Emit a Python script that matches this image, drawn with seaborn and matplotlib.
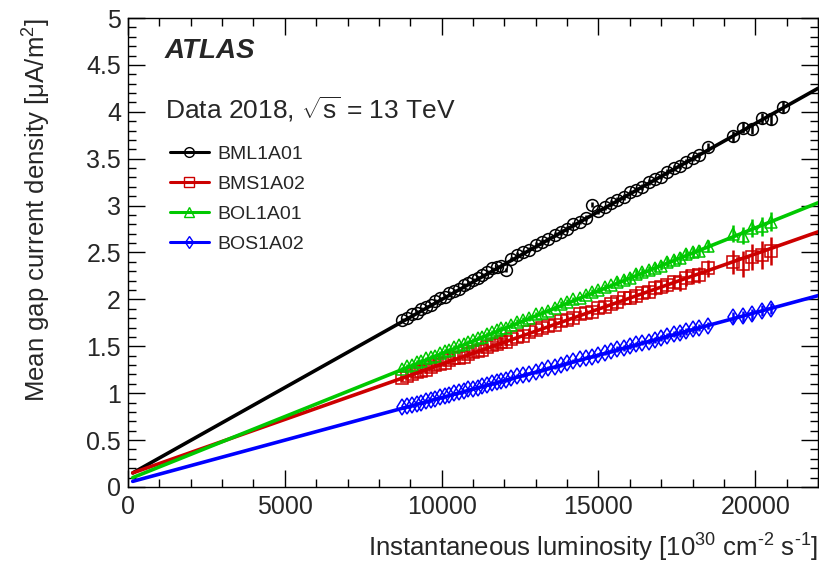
import matplotlib
matplotlib.use("Agg")
import matplotlib.pyplot as plt
import seaborn as sns
from matplotlib.lines import Line2D
from matplotlib.ticker import MultipleLocator

# ---------------- data ----------------
lumi = [8750, 8900, 9050, 9200, 9350, 9500, 9650, 9800, 9950, 10100,
        10250, 10400, 10550, 10700, 10850, 11000, 11150, 11300, 11450, 11600,
        11750, 11900, 12050, 12200, 12400, 12600, 12800, 13000, 13200, 13400,
        13600, 13800, 14000, 14200, 14400, 14600, 14800, 15000, 15200, 15400,
        15600, 15800, 16000, 16200, 16400, 16600, 16800, 17000, 17200, 17400,
        17600, 17800, 18000, 18200, 18500, 19300, 19600, 19900, 20200, 20500]
lumi_bml = lumi + [20900]

bml1a01 = [1.78, 1.80, 1.84, 1.86, 1.90, 1.92, 1.94, 1.98, 2.01, 2.03,
           2.07, 2.09, 2.11, 2.15, 2.17, 2.21, 2.23, 2.26, 2.29, 2.33,
           2.35, 2.36, 2.31, 2.43, 2.47, 2.50, 2.53, 2.58, 2.61, 2.64,
           2.69, 2.72, 2.75, 2.80, 2.83, 2.87, 3.01, 2.94, 2.98, 3.03,
           3.06, 3.09, 3.14, 3.17, 3.20, 3.25, 3.28, 3.31, 3.36, 3.40,
           3.42, 3.47, 3.51, 3.54, 3.62, 3.74, 3.83, 3.82, 3.93, 3.92, 4.05]
bml1a01_err = [0.02] * 24 + [0.03] * 30 + [0.05, 0.06, 0.06, 0.06, 0.06, 0.06, 0.06]

bms1a02 = [1.16, 1.18, 1.20, 1.23, 1.24, 1.25, 1.28, 1.30, 1.31, 1.32,
           1.35, 1.37, 1.38, 1.39, 1.42, 1.44, 1.45, 1.46, 1.49, 1.51,
           1.52, 1.55, 1.55, 1.58, 1.60, 1.61, 1.65, 1.67, 1.69, 1.72,
           1.73, 1.77, 1.78, 1.80, 1.84, 1.85, 1.87, 1.91, 1.92, 1.95,
           1.97, 2.01, 2.02, 2.04, 2.07, 2.08, 2.12, 2.13, 2.15, 2.19,
           2.18, 2.23, 2.25, 2.26, 2.33, 2.40, 2.38, 2.45, 2.47, 2.52]
bms1a02_err = [0.03] * 20 + [0.05] * 20 + [0.07] * 10 + [0.09] * 5 + [0.13, 0.14, 0.14, 0.15, 0.15]

bol1a01 = [1.26, 1.29, 1.30, 1.33, 1.34, 1.37, 1.39, 1.40, 1.43, 1.45,
           1.46, 1.49, 1.51, 1.52, 1.55, 1.57, 1.59, 1.60, 1.63, 1.65,
           1.67, 1.69, 1.70, 1.73, 1.76, 1.78, 1.80, 1.84, 1.86, 1.88,
           1.91, 1.95, 1.97, 2.00, 2.01, 2.05, 2.08, 2.10, 2.13, 2.15,
           2.19, 2.21, 2.23, 2.27, 2.29, 2.31, 2.34, 2.36, 2.40, 2.42,
           2.44, 2.48, 2.50, 2.52, 2.57, 2.70, 2.68, 2.76, 2.78, 2.83]
bol1a01_err = [0.02] * 20 + [0.03] * 20 + [0.05] * 10 + [0.06] * 5 + [0.09, 0.09, 0.10, 0.10, 0.10]

bos1a02 = [0.85, 0.86, 0.87, 0.89, 0.90, 0.92, 0.93, 0.94, 0.96, 0.97,
           0.98, 1.00, 1.01, 1.02, 1.04, 1.05, 1.06, 1.08, 1.09, 1.11,
           1.12, 1.13, 1.14, 1.16, 1.18, 1.19, 1.21, 1.23, 1.25, 1.27,
           1.28, 1.30, 1.32, 1.34, 1.36, 1.38, 1.39, 1.41, 1.43, 1.45,
           1.47, 1.48, 1.50, 1.52, 1.54, 1.55, 1.57, 1.59, 1.61, 1.63,
           1.64, 1.66, 1.68, 1.70, 1.72, 1.81, 1.82, 1.84, 1.88, 1.90]
bos1a02_err = [0.015] * 20 + [0.02] * 20 + [0.03] * 10 + [0.04] * 5 + [0.06, 0.06, 0.06, 0.06, 0.06]

# linear fits, evaluated at the two ends of the drawn range
fit_x = [150, 22000]
fit_bml = [0.15, 4.25]
fit_bms = [0.15, 2.72]
fit_bol = [0.10, 3.03]
fit_bos = [0.06, 2.04]

labels = ["BML1A01", "BMS1A02", "BOL1A01", "BOS1A02"]
x_ticks = [0, 5000, 10000, 15000, 20000]
y_ticks = [0, 0.5, 1, 1.5, 2, 2.5, 3, 3.5, 4, 4.5, 5]

# ---------------- style ----------------
sns.set_theme(style="ticks")
plt.rcParams["font.family"] = ["Liberation Sans", "DejaVu Sans"]
plt.rcParams["mathtext.fontset"] = "custom"
plt.rcParams["mathtext.rm"] = "Liberation Sans"
plt.rcParams["mathtext.it"] = "Liberation Sans:italic"
plt.rcParams["mathtext.bf"] = "Liberation Sans:bold"

BLACK = "#000000"
RED = "#cc0000"
GREEN = "#00c800"
BLUE = "#0000ff"

fig = plt.figure(figsize=(8.2, 5.69), dpi=100)
ax = fig.add_axes([128 / 820, 1 - 487 / 569, 690 / 820, (487 - 18) / 569])

series = [
    (lumi_bml, bml1a01, bml1a01_err, fit_bml, BLACK, "o", 8.5),
    (lumi, bms1a02, bms1a02_err, fit_bms, RED, "s", 8.0),
    (lumi, bol1a01, bol1a01_err, fit_bol, GREEN, "^", 8.5),
    (lumi, bos1a02, bos1a02_err, fit_bos, BLUE, "d", 8.0),
]

for i, (xs, ys, es, fit, col, mk, ms) in enumerate(series):
    ax.errorbar(xs, ys, yerr=es, fmt=mk, color=col, mfc="none", mec=col,
                ms=ms, mew=1.1, elinewidth=1.8, capsize=0, zorder=3 + i * 0.1)

for i, (xs, ys, es, fit, col, mk, ms) in enumerate(series):
    sns.lineplot(x=fit_x, y=fit, color=col, lw=2.6, ax=ax, zorder=5)

ax.set_xlim(0, 22000)
ax.set_ylim(0, 5)
ax.set_xticks(x_ticks)
ax.set_yticks(y_ticks)
ax.set_yticklabels([f"{v:g}" for v in y_ticks])
ax.xaxis.set_minor_locator(MultipleLocator(1000))
ax.yaxis.set_minor_locator(MultipleLocator(0.1))
ax.tick_params(which="both", direction="in", top=True, right=True,
               labelsize=18, width=1.0, color="black")
ax.tick_params(which="major", length=12)
ax.tick_params(which="minor", length=6)
ax.tick_params(axis="x", pad=6)
ax.tick_params(axis="y", pad=5)
for s in ax.spines.values():
    s.set_linewidth(1.0)
    s.set_color("black")

ax.set_xlabel("Instantaneous luminosity [10$^{30}$ cm$^{\u2010 2}$ s$^{\u2010 1}$]",
              fontsize=18.5, loc="right", labelpad=9)
ax.set_ylabel("Mean gap current density [μA/m$^{2}$]",
              fontsize=18.5, loc="top", labelpad=24)

fig.text(165 / 820, 1 - 51 / 569, "ATLAS", fontsize=20, fontweight="bold",
         fontstyle="italic", va="center", ha="left")
fig.text(165 / 820, 1 - 118 / 569, r"Data 2018, $\sqrt{\mathrm{s}}$ = 13 TeV",
         fontsize=19, va="baseline", ha="left")

handles = [Line2D([], [], color=col, lw=2.2, marker=mk, mfc="none", mec=col,
                  ms=ms - 1.5, mew=1.0)
           for (xs, ys, es, fit, col, mk, ms) in series]
ax.legend(handles, labels, loc="upper left",
          bbox_to_anchor=(170 / 820, 1 - 145 / 569), bbox_transform=fig.transFigure,
          frameon=False, fontsize=14, handlelength=2.0, handletextpad=0.45,
          labelspacing=0.64, borderpad=0, borderaxespad=0)

fig.savefig("out.png", dpi=100)
